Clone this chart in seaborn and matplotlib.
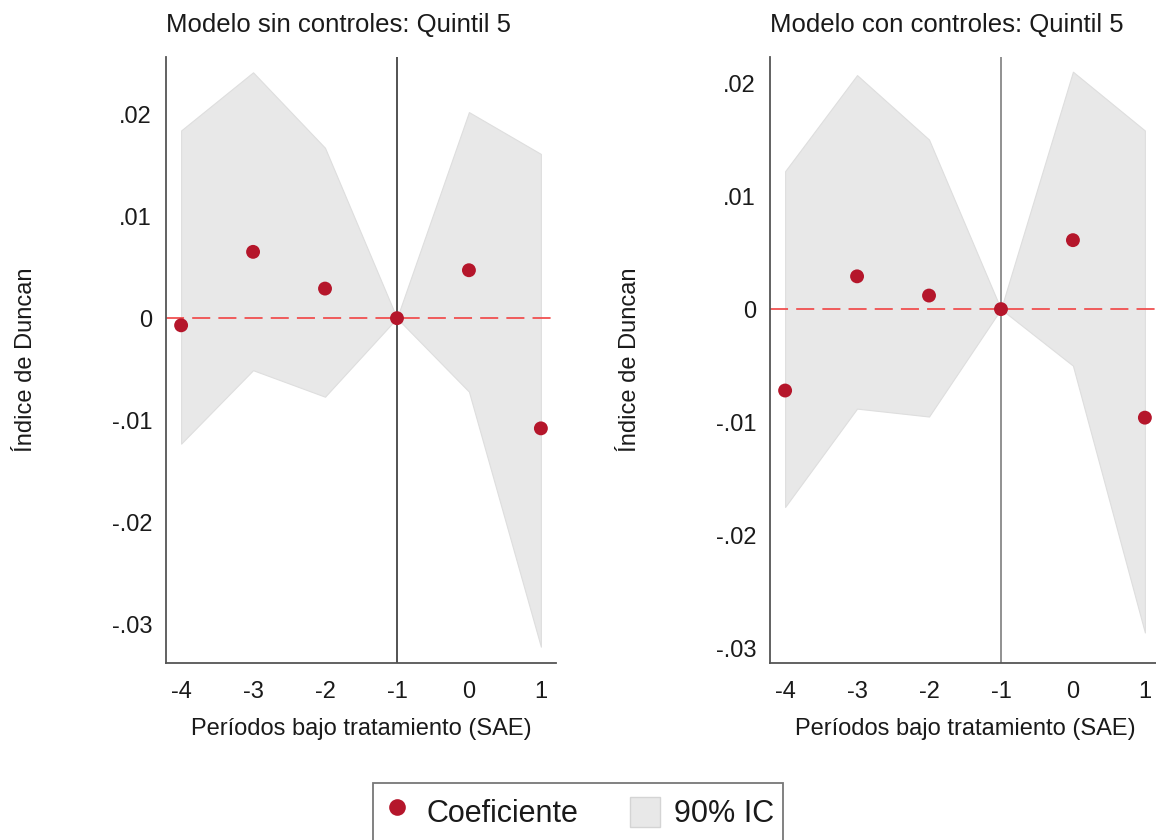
import numpy as np
import pandas as pd
import matplotlib
matplotlib.use("Agg")
import matplotlib.pyplot as plt
from matplotlib.lines import Line2D
from matplotlib.patches import Patch, Rectangle
from matplotlib.legend_handler import HandlerPatch
import seaborn as sns

# Periods relative to treatment
periodos = [-4, -3, -2, -1, 0, 1]

# Model without controls
coef_sin = [-0.0007, 0.0065, 0.0029, 0.0, 0.0047, -0.0108]
ci_hi_sin = [0.0184, 0.0241, 0.0167, 0.0, 0.0202, 0.0161]
ci_lo_sin = [-0.0123, -0.0051, -0.0077, 0.0, -0.0072, -0.0322]

# Model with controls
coef_con = [-0.0072, 0.0029, 0.0012, 0.0, 0.0061, -0.0096]
ci_hi_con = [0.0122, 0.0207, 0.0150, 0.0, 0.0210, 0.0158]
ci_lo_con = [-0.0175, -0.0088, -0.0095, 0.0, -0.0050, -0.0286]

titulos = ["Modelo sin controles: Quintil 5", "Modelo con controles: Quintil 5"]
yticks = [-0.03, -0.02, -0.01, 0, 0.01, 0.02]

sns.set_style("white")
plt.rcParams['font.family'] = ['Liberation Sans', 'DejaVu Sans']

RED = "#b5162b"
GREY_FILL = "#e8e8e8"
TXT = "#1a1a1a"


def fmt(v):
    if abs(v) < 1e-12:
        return "0"
    s = f"{v:.2f}"
    return s.replace("0.", ".")


def square_patch(legend, orig_handle, xdescent, ydescent, width, height, fontsize):
    # square swatch centred vertically in a taller legend row
    return Rectangle((-xdescent, -ydescent + (height - width) / 2), width, width)


fig = plt.figure(figsize=(11.56, 8.40), dpi=100)
ax1 = fig.add_axes([166 / 1156, 1 - 663 / 840, 390 / 1156, 606 / 840])
ax2 = fig.add_axes([770 / 1156, 1 - 663 / 840, 390 / 1156, 606 / 840])

paneles = [
    (ax1, coef_sin, ci_lo_sin, ci_hi_sin, (-0.0338, 0.0256), "#444444"),
    (ax2, coef_con, ci_lo_con, ci_hi_con, (-0.0313, 0.0223), "#888888"),
]

for i, (ax, coef, lo, hi, ylim, vcol) in enumerate(paneles):
    df = pd.DataFrame({"periodo": periodos, "coef": coef, "lo": lo, "hi": hi})
    ax.fill_between(df["periodo"], df["lo"], df["hi"], color=GREY_FILL, lw=0.8,
                    edgecolor="#dedede", zorder=1)
    ax.axhline(0, color="#f05050", lw=1.3, dashes=(10, 4.5), zorder=2)
    ax.axvline(-1, color=vcol, lw=1.3, zorder=2)
    sns.scatterplot(data=df, x="periodo", y="coef", ax=ax, color=RED, s=100,
                    edgecolor="none", zorder=3, legend=False)
    ax.set_xlim(-4.21, 1.21)
    ax.set_ylim(*ylim)
    ax.set_xticks(periodos)
    ax.set_xticklabels([str(p) for p in periodos])
    ax.set_yticks(yticks)
    ax.set_yticklabels([fmt(v) for v in yticks])
    ax.tick_params(axis="both", length=0, labelsize=17, colors=TXT)
    ax.tick_params(axis="x", pad=13)
    ax.tick_params(axis="y", pad=10)
    for side in ["top", "right"]:
        ax.spines[side].set_visible(False)
    for side in ["left", "bottom"]:
        ax.spines[side].set_color("#555555")
        ax.spines[side].set_linewidth(1.3)
    ax.set_xlabel("Períodos bajo tratamiento (SAE)", fontsize=17, color=TXT)
    ax.set_ylabel("Índice de Duncan", fontsize=17, color=TXT)
    ax.xaxis.set_label_coords(0.5, -0.09)
    ax.yaxis.set_label_coords(-0.33, 0.5)
    ax.set_title(titulos[i], fontsize=18.5, color=TXT, loc="left", pad=18)

ic_patch = Patch(facecolor=GREY_FILL, edgecolor="#d4d4d4")
handles = [
    Line2D([0], [0], marker="o", color="none", markerfacecolor=RED,
           markeredgecolor="none", markersize=12),
    ic_patch,
]
leg = fig.legend(handles, ["Coeficiente", "90% IC"], loc="upper center",
                 bbox_to_anchor=(578 / 1156, 1 - 783 / 840), ncol=2, fontsize=22,
                 frameon=True, fancybox=False, edgecolor="#555555",
                 handlelength=1.0, handleheight=1.6, columnspacing=1.7,
                 borderpad=0.3, handletextpad=0.45, borderaxespad=0,
                 handler_map={ic_patch: HandlerPatch(patch_func=square_patch)})
leg.get_frame().set_linewidth(1.3)
for t in leg.get_texts():
    t.set_color(TXT)

fig.savefig("out.png", dpi=100)
